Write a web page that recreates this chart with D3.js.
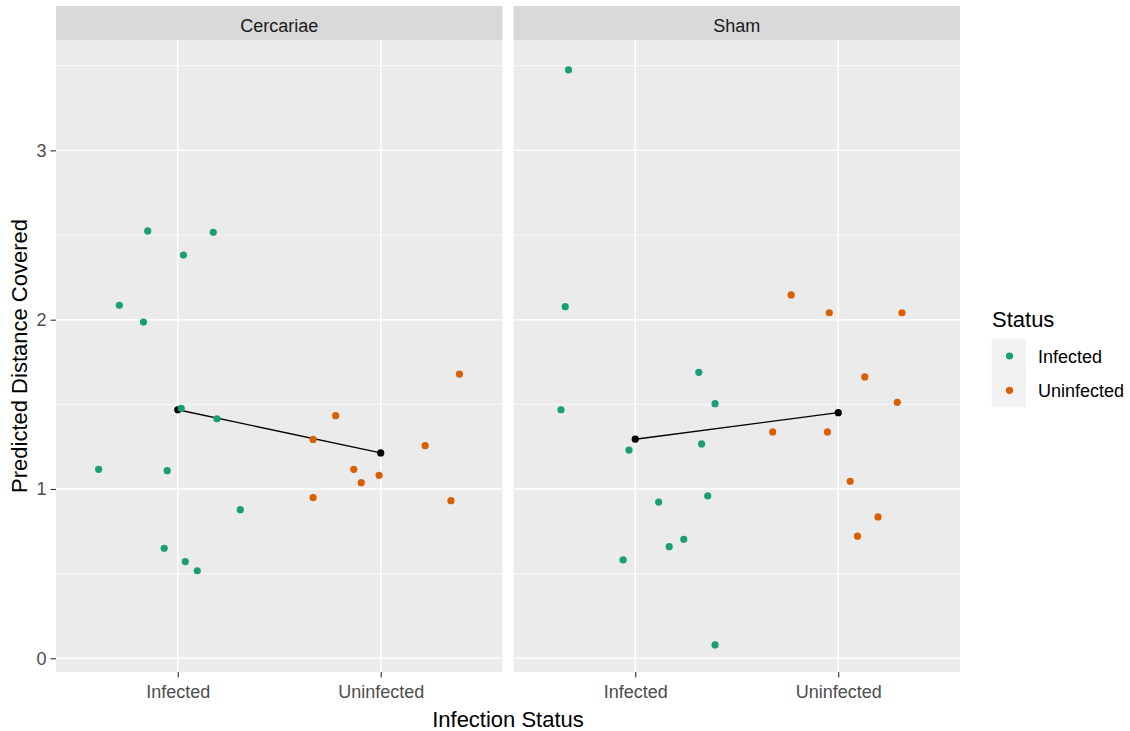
<!DOCTYPE html>
<html>
<head>
<meta charset="utf-8">
<script src="https://cdn.jsdelivr.net/npm/d3@7"></script>
<style>
  body { margin: 0; background: #fff; }
  text { font-family: "Liberation Sans", Arial, sans-serif; }
</style>
</head>
<body>
<div id="graf"></div>
<script>
// Categorias
facetas = ['Cercariae', 'Sham']
estados = ['Infected', 'Uninfected']
colores = ['#1B9E77', '#D95F02']
yTicks  = [0, 1, 2, 3]

// Valores (y) y desplazamiento horizontal del jitter (en unidades de categoria)
cerInfY   = [2.524, 2.516, 2.382, 2.085, 1.986, 1.477, 1.415, 1.116, 1.108, 0.878, 0.650, 0.571, 0.517]
cerInfJit = [-0.148, 0.175, 0.028, -0.288, -0.169, 0.017, 0.193, -0.390, -0.052, 0.308, -0.067, 0.037, 0.096]
cerUniY   = [1.679, 1.433, 1.293, 1.256, 1.116, 1.081, 1.037, 0.949, 0.931]
cerUniJit = [0.388, -0.222, -0.333, 0.219, -0.133, -0.008, -0.096, -0.333, 0.346]

shamInfY   = [3.475, 2.077, 1.689, 1.468, 1.504, 1.230, 1.266, 0.959, 0.923, 0.703, 0.659, 0.581, 0.079]
shamInfJit = [-0.329, -0.345, 0.313, -0.366, 0.393, -0.031, 0.327, 0.357, 0.115, 0.239, 0.167, -0.060, 0.393]
shamUniY   = [2.146, 2.041, 2.041, 1.662, 1.512, 1.337, 1.337, 1.045, 0.835, 0.721]
shamUniJit = [-0.232, -0.044, 0.314, 0.131, 0.291, -0.323, -0.053, 0.059, 0.196, 0.095]

// Medias por faceta (Infected, Uninfected)
mediasCer  = [1.468, 1.213]
mediasSham = [1.294, 1.451]

ancho_total = 1130
alto_total  = 731
panel = { top: 40, bottom: 672, left: 56, width: 446.5, gap: 11 }

svg = d3.select('#graf').append('svg')
        .attr('width', ancho_total)
        .attr('height', alto_total)

// Escaladores
y = d3.scaleLinear().domain([-0.081, 3.652]).range([panel.bottom, panel.top])
color = d3.scaleOrdinal().domain(estados).range(colores)

datos = [
  { faceta: facetas[0], grupos: [[cerInfY, cerInfJit], [cerUniY, cerUniJit]], medias: mediasCer },
  { faceta: facetas[1], grupos: [[shamInfY, shamInfJit], [shamUniY, shamUniJit]], medias: mediasSham }
]

datos.forEach((f, fi) => {
  let x0 = panel.left + fi * (panel.width + panel.gap)
  let x = d3.scaleLinear().domain([0.4, 2.6]).range([x0, x0 + panel.width])

  // Fondo del panel
  svg.append('rect')
     .attr('x', x0).attr('y', panel.top)
     .attr('width', panel.width).attr('height', panel.bottom - panel.top)
     .attr('fill', '#EBEBEB')

  // Cuadricula menor
  svg.selectAll(null).data([0.5, 1.5, 2.5, 3.5]).enter().append('line')
     .attr('x1', x0).attr('x2', x0 + panel.width)
     .attr('y1', d => y(d)).attr('y2', d => y(d))
     .attr('stroke', '#fff').attr('stroke-width', 0.7)

  // Cuadricula mayor
  svg.selectAll(null).data(yTicks).enter().append('line')
     .attr('x1', x0).attr('x2', x0 + panel.width)
     .attr('y1', d => y(d)).attr('y2', d => y(d))
     .attr('stroke', '#fff').attr('stroke-width', 1.4)
  svg.selectAll(null).data([1, 2]).enter().append('line')
     .attr('x1', d => x(d)).attr('x2', d => x(d))
     .attr('y1', panel.top).attr('y2', panel.bottom)
     .attr('stroke', '#fff').attr('stroke-width', 1.4)

  // Tira (strip)
  svg.append('rect')
     .attr('x', x0).attr('y', 6)
     .attr('width', panel.width).attr('height', panel.top - 6)
     .attr('fill', '#D9D9D9')
  svg.append('text')
     .attr('x', x0 + panel.width / 2).attr('y', 32)
     .attr('text-anchor', 'middle')
     .attr('font-size', 18).attr('fill', '#1A1A1A')
     .text(f.faceta)

  // Linea de medias
  let lineaGen = d3.line().x((d, i) => x(i + 1)).y(d => y(d))
  svg.append('path')
     .attr('d', lineaGen(f.medias))
     .attr('fill', 'none').attr('stroke', '#000').attr('stroke-width', 1.4)
  svg.selectAll(null).data(f.medias).enter().append('circle')
     .attr('cx', (d, i) => x(i + 1)).attr('cy', d => y(d))
     .attr('r', 3.6).attr('fill', '#000')

  // Puntos
  f.grupos.forEach((g, gi) => {
    let pts = g[0].map((v, i) => ({ v: v, j: g[1][i] }))
    svg.selectAll(null).data(pts).enter().append('circle')
       .attr('cx', d => x(gi + 1 + d.j)).attr('cy', d => y(d.v))
       .attr('r', 3.6).attr('fill', color(estados[gi]))
  })

  // Eje x
  let xAxis = svg.append('g')
     .attr('transform', `translate(0, ${panel.bottom})`)
     .call(d3.axisBottom(x).tickValues([1, 2]).tickFormat(d => estados[d - 1])
             .tickSize(5.5).tickPadding(8))
  xAxis.select('.domain').remove()
  xAxis.selectAll('line').attr('stroke', '#333').attr('stroke-width', 1.1)
  xAxis.selectAll('text').attr('font-size', 18).attr('fill', '#4D4D4D')
       .style('font-family', '"Liberation Sans", Arial, sans-serif')
})

// Eje y
yAxis = svg.append('g')
   .attr('transform', `translate(${panel.left}, 0)`)
   .call(d3.axisLeft(y).tickValues(yTicks).tickFormat(d3.format('d'))
           .tickSize(5.5).tickPadding(4))
yAxis.select('.domain').remove()
yAxis.selectAll('line').attr('stroke', '#333').attr('stroke-width', 1.1)
yAxis.selectAll('text').attr('font-size', 18).attr('fill', '#4D4D4D')
     .style('font-family', '"Liberation Sans", Arial, sans-serif')

// Titulos de ejes
svg.append('text')
   .attr('x', panel.left + (2 * panel.width + panel.gap) / 2).attr('y', 727)
   .attr('text-anchor', 'middle').attr('font-size', 22).attr('fill', '#000')
   .text('Infection Status')
svg.append('text')
   .attr('transform', `translate(27, ${(panel.top + panel.bottom) / 2}) rotate(-90)`)
   .attr('text-anchor', 'middle').attr('font-size', 22).attr('fill', '#000')
   .text('Predicted Distance Covered')

// Leyenda
leyenda = svg.append('g')
leyenda.append('text')
   .attr('x', 992).attr('y', 327)
   .attr('font-size', 22).attr('fill', '#000')
   .text('Status')
estados.forEach((e, i) => {
  let cy = 356 + i * 34.3
  leyenda.append('rect')
     .attr('x', 991.7).attr('y', cy - 17.15)
     .attr('width', 34.3).attr('height', 34.3)
     .attr('fill', '#F2F2F2')
  leyenda.append('circle')
     .attr('cx', 1009.5).attr('cy', cy).attr('r', 3.6)
     .attr('fill', color(e))
  leyenda.append('text')
     .attr('x', 1038).attr('y', cy + 7)
     .attr('font-size', 18).attr('fill', '#000')
     .text(e)
})
</script>
</body>
</html>
